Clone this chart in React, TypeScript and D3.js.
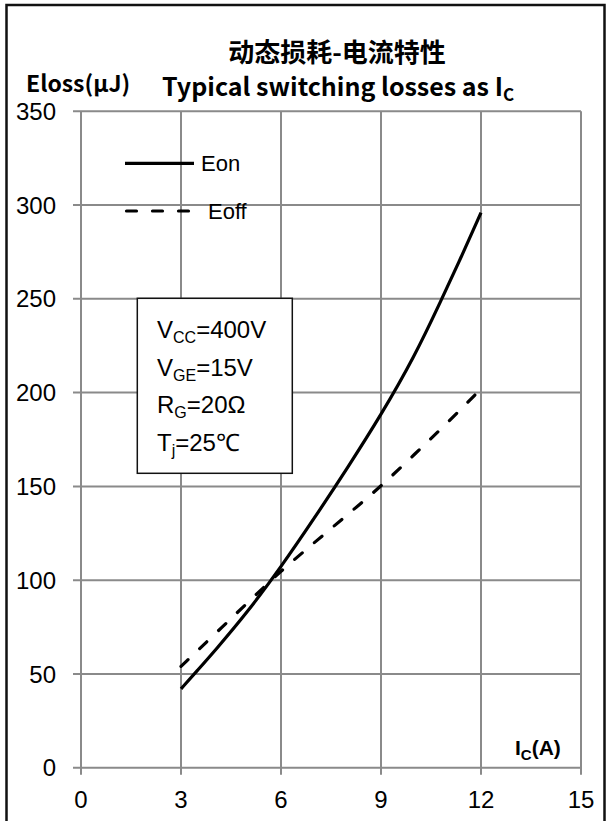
import React from "react";
import * as d3 from "d3";

const xTicks = [0, 3, 6, 9, 12, 15];
const yTicks = [0, 50, 100, 150, 200, 250, 300, 350];
const eonI = [3, 3.5, 4, 5, 6, 7, 8, 9, 10, 10.8, 11.4, 12];
const eonE = [42, 52, 62, 83, 107, 133, 160, 188, 219, 249, 272, 296];
const eoffI = [3, 4, 5, 6, 7, 8, 9, 10, 11, 12];
const eoffE = [54, 71, 88, 105, 120, 135, 150, 167, 184, 202];
const conditions = [
  { main: "V", sub: "CC", rest: "=400V" },
  { main: "V", sub: "GE", rest: "=15V" },
  { main: "R", sub: "G", rest: "=20Ω" },
  { main: "T", sub: "j", rest: "=25℃" },
];

export default function App() {
  const W = 607, H = 821;
  const x = d3.scaleLinear().domain([0, 15]).range([81, 581]);
  const y = d3.scaleLinear().domain([0, 350]).range([767.7, 111.3]);
  const line = d3
    .line<[number, number]>()
    .x((d) => x(d[0]))
    .y((d) => y(d[1]))
    .curve(d3.curveBasis);
  const eon = line(eonI.map((v, i) => [v, eonE[i]] as [number, number]));
  const eoff = line(eoffI.map((v, i) => [v, eoffE[i]] as [number, number]));
  const grid = "#8a8a8a";
  const sans = "'Liberation Sans', Arial, sans-serif";
  const cjk = "'Noto Sans CJK SC', sans-serif";
  return (
    <svg
      width={W}
      height={H}
      style={{ position: "absolute", left: 0, top: 0, background: "#fff" }}
    >
      <rect x={0} y={0} width={W} height={H} fill="#fff" />
      <rect x={6.5} y={5} width={598} height={830} fill="none" stroke="#111" strokeWidth={2.5} />
      {/* grid */}
      {xTicks.map((t) => (
        <line key={"gx" + t} x1={x(t)} x2={x(t)} y1={y(350)} y2={y(0) + 7} stroke={grid} strokeWidth={2} />
      ))}
      {yTicks.map((t) => (
        <line key={"gy" + t} x1={x(0) - 8} x2={x(15)} y1={y(t)} y2={y(t)} stroke={grid} strokeWidth={2} />
      ))}
      {/* tick labels */}
      {yTicks.map((t) => (
        <text key={"ly" + t} x={56} y={y(t)} dy="0.36em" textAnchor="end" fontFamily={sans} fontSize={24} fill="#000">
          {t}
        </text>
      ))}
      {xTicks.map((t) => (
        <text key={"lx" + t} x={x(t)} y={808} textAnchor="middle" fontFamily={sans} fontSize={24} fill="#000">
          {t}
        </text>
      ))}
      {/* curves */}
      <path d={eon || ""} fill="none" stroke="#000" strokeWidth={3.2} />
      <path d={eoff || ""} fill="none" stroke="#000" strokeWidth={3.2} strokeDasharray="10,16" strokeLinecap="round" />
      {/* legend */}
      <line x1={125} x2={194} y1={163.3} y2={163.3} stroke="#000" strokeWidth={3.2} />
      <text x={201} y={171} fontFamily={sans} fontSize={22} fill="#000">Eon</text>
      <line x1={126.5} x2={192.5} y1={211} y2={211} stroke="#000" strokeWidth={3.2} strokeDasharray="10,16" strokeLinecap="round" />
      <text x={208} y={219} fontFamily={sans} fontSize={22} fill="#000">Eoff</text>
      {/* conditions box */}
      <rect x={137.3} y={298.3} width={155} height={175} fill="#fff" stroke="#111" strokeWidth={1.5} />
      {conditions.map((c, i) => (
        <text key={"c" + i} x={157} y={338 + i * 37.5} fontFamily={sans} fontSize={24} fill="#000">
          {c.main}
          <tspan fontSize={16} dy={5}>{c.sub}</tspan>
          <tspan dy={-5}>{c.rest}</tspan>
        </text>
      ))}
      {/* titles */}
      <text x={337} y={62} textAnchor="middle" fontFamily={cjk} fontWeight="bold" fontSize={26} fill="#000">
        动态损耗-电流特性
      </text>
      <text x={338} y={96} textAnchor="middle" fontFamily={cjk} fontWeight="bold" fontSize={25} fill="#000">
        Typical switching losses as I<tspan fontSize={17} dy={5}>C</tspan>
      </text>
      <text x={26} y={92} fontFamily={cjk} fontWeight="bold" fontSize={23} fill="#000">
        Eloss(μJ)
      </text>
      {/* x axis title */}
      <text x={515} y={755} fontFamily={sans} fontWeight="bold" fontSize={21} fill="#000">
        I<tspan fontSize={15} dy={5}>C</tspan>
        <tspan dy={-5}>(A)</tspan>
      </text>
    </svg>
  );
}
